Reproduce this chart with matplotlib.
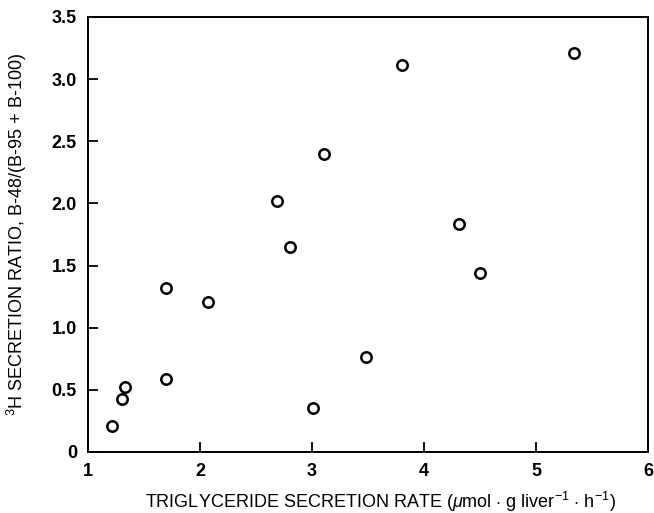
import matplotlib
matplotlib.use('Agg')
import matplotlib.pyplot as plt

plt.rcParams['font.family'] = ['Liberation Sans', 'DejaVu Sans']
plt.rcParams['mathtext.fontset'] = 'custom'
plt.rcParams['mathtext.rm'] = 'Liberation Sans'
plt.rcParams['mathtext.it'] = 'Liberation Sans:italic'

# triglyceride secretion rate vs 3H secretion ratio
tg_rate = [1.21, 1.30, 1.33, 1.70, 1.70, 2.07, 2.69, 2.80, 3.01, 3.11,
           3.48, 3.80, 4.31, 4.50, 5.34]
ratio = [0.21, 0.43, 0.52, 0.59, 1.32, 1.21, 2.02, 1.65, 0.35, 2.40,
         0.76, 3.11, 1.83, 1.44, 3.21]

x_ticks = [1, 2, 3, 4, 5, 6]
y_ticks = [0, 0.5, 1.0, 1.5, 2.0, 2.5, 3.0, 3.5]
y_labels = ['0', '0.5', '1.0', '1.5', '2.0', '2.5', '3.0', '3.5']

fig = plt.figure(figsize=(6.54, 5.13), dpi=100)
ax = fig.add_axes([0.1346, 0.119, 0.8564, 0.848])

ax.plot(tg_rate, ratio, 'o', ms=7.5, mfc='white', mec='black', mew=1.8,
        clip_on=False)

ax.set_xlim(1, 6)
ax.set_ylim(0, 3.5)
ax.set_xticks(x_ticks)
ax.set_yticks(y_ticks)
ax.set_yticklabels(y_labels)
ax.tick_params(direction='in', length=7, width=1.3, labelsize=13, pad=8)
for lab in ax.get_xticklabels() + ax.get_yticklabels():
    lab.set_fontweight('bold')
for sp in ax.spines.values():
    sp.set_linewidth(1.4)

ax.set_xlabel(r'TRIGLYCERIDE SECRETION RATE ($\mu$mol $\cdot$ g liver$^{-1}$ $\cdot$ h$^{-1}$)',
              fontsize=13)
ax.set_ylabel(r'$^{3}$H SECRETION RATIO, B-48/(B-95 + B-100)', fontsize=13)
ax.xaxis.set_label_coords(0.523, -0.088)
ax.yaxis.set_label_coords(-0.105, 0.50)

fig.savefig('out.png', dpi=100)
